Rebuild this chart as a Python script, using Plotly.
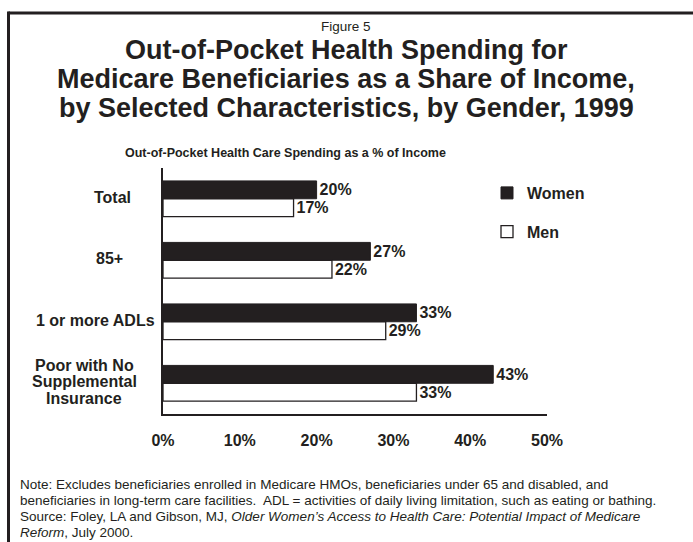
import plotly.graph_objects as go

# Data
categories = ["Total", "85+", "1 or more ADLs", "Poor with No Supplemental Insurance"]
category_labels = ["Total", "85+", "1 or more ADLs", "Poor with No<br>Supplemental<br>Insurance"]
women = [20, 27, 33, 43]
men = [17, 22, 29, 33]
x_ticks = [0, 10, 20, 30, 40, 50]
x_tick_labels = ["0%", "10%", "20%", "30%", "40%", "50%"]

FONT = "Liberation Sans, Arial, Helvetica, sans-serif"
INK = "#231f20"

W, H = 693, 542
M_L, M_R, M_T, M_B = 163, 146, 168, 128
PLOT_W = W - M_L - M_R
PLOT_H = H - M_T - M_B


def px_x(px):
    """Pixel column -> paper x."""
    return (px - M_L) / PLOT_W


def px_y(py):
    """Pixel row -> paper y."""
    return (H - M_B - py) / PLOT_H


fig = go.Figure()

fig.add_trace(go.Bar(
    name="<b>Women</b>", y=categories, x=women, orientation="h",
    marker=dict(color=INK, line=dict(color=INK, width=1)),
    text=[f"<b>{v}%</b>" for v in women], textposition="outside",
    textfont=dict(family=FONT, size=16, color=INK),
    constraintext="none", cliponaxis=False, legendgroup="w",
))
fig.add_trace(go.Bar(
    name="<b>Men</b>", y=categories, x=men, orientation="h",
    marker=dict(color="white", line=dict(color=INK, width=1.3)),
    text=[f"<b>{v}%</b>" for v in men], textposition="outside",
    textfont=dict(family=FONT, size=16, color=INK),
    constraintext="none", cliponaxis=False, legendgroup="m",
))

annotations = []

# Category labels beside the bars (multi-line labels set line by line)
label_x = [112, 109, 95, 84]
LINE_STEP = 16.5
for cat, lab, cx in zip(categories, category_labels, label_x):
    lines = lab.split("<br>")
    n = len(lines)
    for i, line in enumerate(lines):
        annotations.append(dict(
            x=px_x(cx), xref="paper", y=cat, yref="y",
            yshift=1.5 + ((n - 1) / 2 - i) * LINE_STEP,
            text=f"<b>{line}</b>", showarrow=False, xanchor="center", yanchor="middle",
            font=dict(family=FONT, size=16, color=INK),
        ))

# Heading block
annotations.append(dict(
    x=px_x(346), y=px_y(27), xref="paper", yref="paper", text="Figure 5",
    showarrow=False, xanchor="center", yanchor="middle",
    font=dict(family=FONT, size=13.5, color=INK),
))
title_lines = [
    "Out-of-Pocket Health Spending for",
    "Medicare Beneficiaries as a Share of Income,",
    "by Selected Characteristics, by Gender, 1999",
]
for i, line in enumerate(title_lines):
    annotations.append(dict(
        x=px_x(346), y=px_y(50 + 29 * i), xref="paper", yref="paper",
        text=f"<b>{line}</b>", showarrow=False, xanchor="center", yanchor="middle",
        font=dict(family=FONT, size=27, color=INK),
    ))
annotations.append(dict(
    x=px_x(123), y=px_y(153), xref="paper", yref="paper",
    text="<b>Out-of-Pocket Health Care Spending as a % of Income</b>",
    showarrow=False, xanchor="left", yanchor="middle",
    font=dict(family=FONT, size=12.5, color=INK),
))

# Footnote, one annotation per line
note_lines = [
    "Note: Excludes beneficiaries enrolled in Medicare HMOs, beneficiaries under 65 and disabled, and",
    "beneficiaries in long-term care facilities.\u00a0 ADL = activities of daily living limitation, such as eating or bathing.",
    "Source: Foley, LA and Gibson, MJ, <i>Older Women\u2019s Access to Health Care: Potential Impact of Medicare</i>",
    "<i>Reform</i>, July 2000.",
]
for i, line in enumerate(note_lines):
    annotations.append(dict(
        x=px_x(18), y=px_y(484 + 16 * i), xref="paper", yref="paper", text=line,
        showarrow=False, xanchor="left", yanchor="middle", align="left",
        font=dict(family=FONT, size=13.5, color=INK),
    ))

# Page frame (top and left rules)
shapes = [
    dict(type="line", xref="paper", yref="paper",
         x0=px_x(8.5), x1=px_x(700), y0=px_y(13), y1=px_y(13),
         line=dict(color=INK, width=3)),
    dict(type="line", xref="paper", yref="paper",
         x0=px_x(8.5), x1=px_x(8.5), y0=px_y(11.5), y1=px_y(560),
         line=dict(color=INK, width=3)),
]

fig.update_layout(
    width=W, height=H,
    margin=dict(l=M_L, r=M_R, t=M_T, b=M_B, pad=0),
    paper_bgcolor="white", plot_bgcolor="white",
    barmode="group", bargap=0.42, bargroupgap=0,
    font=dict(family=FONT, color=INK),
    showlegend=True,
    legend=dict(
        x=px_x(487), y=px_y(176), xanchor="left", yanchor="top",
        traceorder="grouped", tracegroupgap=15,
        font=dict(family=FONT, size=16, color=INK),
        bgcolor="rgba(0,0,0,0)", itemwidth=30,
    ),
    annotations=annotations,
    shapes=shapes,
)

fig.update_xaxes(
    range=[0, 50], tickvals=x_ticks, ticktext=[f"<b>{t}</b>" for t in x_tick_labels],
    showgrid=False, zeroline=False, showline=True, linecolor=INK, linewidth=1.5,
    ticks="", ticklabelstandoff=11,
    tickfont=dict(family=FONT, size=16, color=INK),
    fixedrange=True,
)
fig.update_yaxes(
    categoryorder="array", categoryarray=categories, autorange="reversed",
    showticklabels=False, showgrid=False, zeroline=False,
    showline=True, linecolor=INK, linewidth=1.5, ticks="",
    fixedrange=True,
)

fig.write_html("out.html")
